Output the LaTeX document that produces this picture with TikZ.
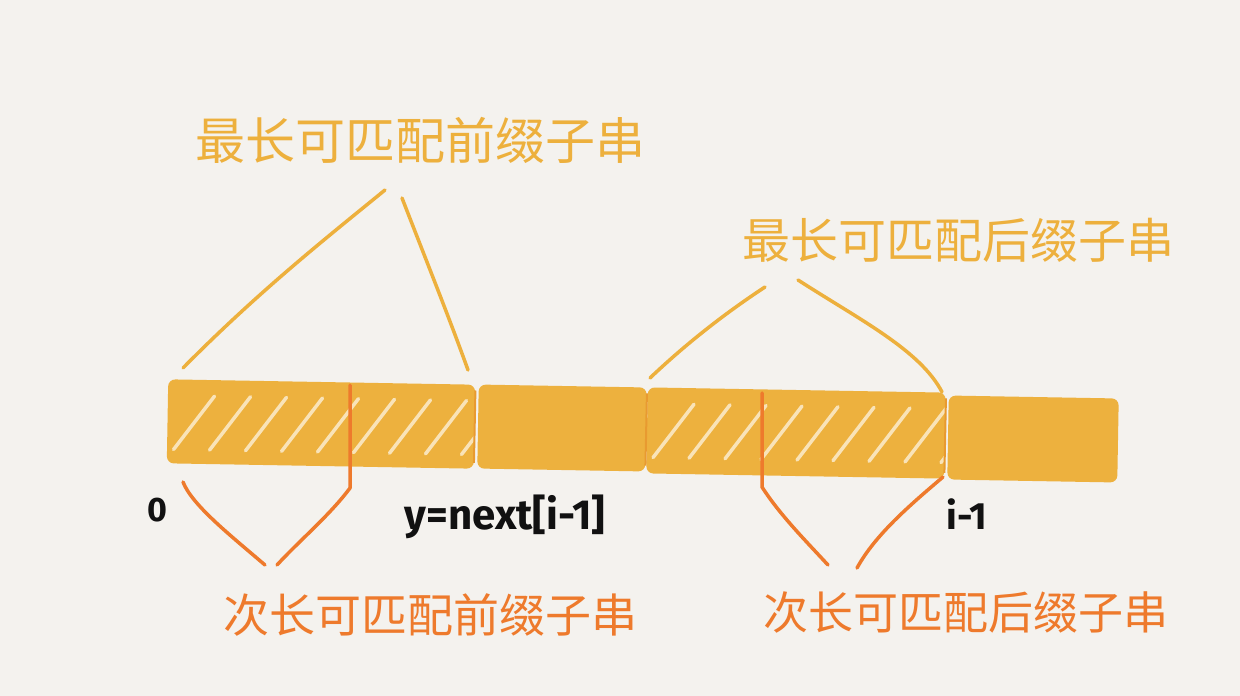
\documentclass[tikz,border=0pt]{standalone}
\usepackage{fontspec}
\newfontfamily\cjk{Noto Sans CJK SC}
\newfontfamily\lab{Fira Sans}
\definecolor{bg}{HTML}{F4F2EE}
\definecolor{bar}{HTML}{EDB13E}
\definecolor{seamc}{HTML}{E89A30}
\definecolor{hatch}{HTML}{F9E3B8}
\definecolor{ylw}{HTML}{EDB03D}
\definecolor{org}{HTML}{EE7A2C}
\definecolor{ink}{HTML}{111111}
\tikzset{
  seg/.style={fill=bar, rounded corners=7pt, inner sep=0pt, rotate=-1},
  hatched/.style={path picture={
      \foreach \k in {0,...,8}{
        \draw[hatch, line width=3.5pt, line cap=round]
          ([xshift={\k*36+8}, yshift=-70pt]path picture bounding box.north west)
          -- ++(40pt,54pt);
      }}},
  seam/.style={seamc, line width=2pt},
  ylink/.style={ylw, line width=3.5pt, line cap=round},
  olink/.style={org, line width=3.5pt, line cap=round, line join=round},
  toptxt/.style={ylw, font=\cjk\fontsize{50}{50}\selectfont, inner sep=0pt},
  bottxt/.style={org, font=\cjk\fontsize{46}{46}\selectfont, inner sep=0pt},
  idx/.style={ink, font=\lab\bfseries\fontsize{42}{42}\selectfont, inner sep=0pt}
}
\begin{document}
\begin{tikzpicture}[x=1pt,y=-1pt]
\fill[bg] (0,0) rectangle (1240,696);
\useasboundingbox (0,0) rectangle (1240,696);

% bar segments
\node[seg, hatched, minimum width=307pt, minimum height=84pt] (s1) at (321,424) {};
\node[seg, minimum width=168pt, minimum height=84pt] (s2) at (562,428) {};
\node[seg, hatched, minimum width=298pt, minimum height=86pt] (s3) at (796,433) {};
\node[seg, minimum width=170pt, minimum height=84pt] (s4) at (1033,439) {};
\draw[seam] ([yshift=-6pt]s1.north east) -- ([yshift=6pt]s1.south east);
\draw[seam] ([yshift=-6pt]s2.north east) -- ([yshift=6pt]s2.south east);
\draw[seam] ([yshift=-6pt]s3.north east) -- ([yshift=6pt]s3.south east);

% texts
\node[toptxt] (t1) at (420,140) {最长可匹配前缀子串};
\node[toptxt, font=\cjk\fontsize{48}{48}\selectfont] (t2) at (958,240) {最长可匹配后缀子串};
\node[bottxt] (b1) at (430,615) {次长可匹配前缀子串};
\node[bottxt, font=\cjk\fontsize{45}{45}\selectfont] (b2) at (966,612) {次长可匹配后缀子串};

\node[idx, font=\lab\bfseries\fontsize{34}{34}\selectfont] (l0) at (157,510) {0};
\node[idx] (ly) at (505,517) {y=next[i-1]};
\node[idx, font=\lab\bfseries\fontsize{38}{38}\selectfont] (li) at (967,514) {i-1};

% coordinates
\coordinate (a1) at (183,368);
\coordinate (a2) at (385,190);
\coordinate (a3) at (402,198);
\coordinate (a4) at (468,370);
\coordinate (c1) at (650,378);
\coordinate (c2) at (765,287);
\coordinate (c3) at (798,280);
\coordinate (c4) at (942,392);

\coordinate (o1) at (183,482);
\coordinate (o2) at (265,565);
\coordinate (o3) at (277,565);
\coordinate (o4) at (350,488);
\coordinate (o5) at (350,385);
\coordinate (q1) at (762,393);
\coordinate (q2) at (762,487);
\coordinate (q3) at (828,565);
\coordinate (q4) at (943,477);
\coordinate (q5) at (857,568);

% yellow connectors
\draw[ylink] (a1) .. controls (260,290) and (330,235) .. (a2);
\draw[ylink] (a3) .. controls (430,270) and (450,320) .. (a4);
\draw[ylink] (c1) .. controls (690,340) and (730,310) .. (c2);
\draw[ylink] (c3) .. controls (860,320) and (920,350) .. (c4);

% orange connectors
\draw[olink] (o1) .. controls (192,505) and (230,535) .. (o2);
\draw[olink] (o3) .. controls (300,540) and (330,515) .. (o4) -- (o5);
\draw[olink] (q1) -- (q2) .. controls (780,515) and (805,540) .. (q3);
\draw[olink] (q4) .. controls (910,505) and (875,535) .. (q5);
\end{tikzpicture}
\end{document}
